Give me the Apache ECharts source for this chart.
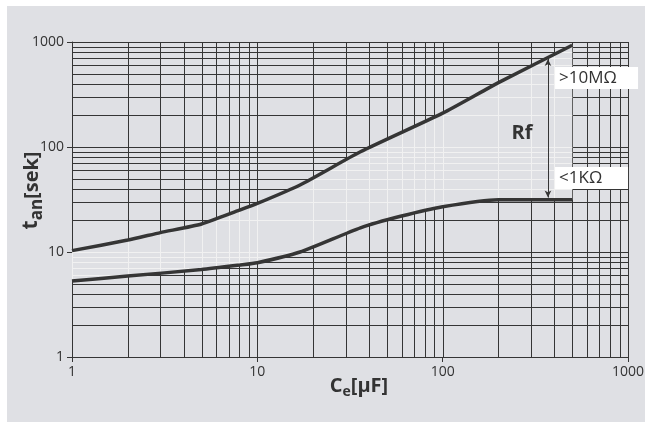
<!DOCTYPE html>
<html>
<head>
<meta charset="utf-8">
<script src="https://cdn.jsdelivr.net/npm/echarts@6/dist/echarts.min.js"></script>
<style>
  html, body { margin: 0; padding: 0; background: #ffffff; }
  #chart { position: absolute; left: 7px; top: 6px; width: 638px; height: 416px; }
</style>
</head>
<body>
<div id="chart"></div>
<script>
// upper curve (Rf > 10 MOhm)
var upperX = [1, 2, 3, 5, 8, 10, 17, 36, 100, 200, 500];
var upperY = [10.3, 13, 15.3, 18.5, 25, 29, 43.5, 90, 210, 410, 930];
// lower curve (Rf < 1 KOhm)
var lowerX = [1, 2, 5, 8, 10, 17, 36, 60, 100, 200, 500];
var lowerY = [5.3, 5.9, 6.8, 7.5, 7.9, 10, 17, 22, 27, 31.5, 31.5];
// grid lines at 1..9 of each decade
var gridValues = [1, 2, 3, 4, 5, 6, 7, 8, 9, 10, 20, 30, 40, 50, 60, 70, 80, 90,
                  100, 200, 300, 400, 500, 600, 700, 800, 900, 1000];
// annotations
var arrowX = 370, arrowTop = 690, arrowBottom = 33;
var labelHigh = {text: '>10MΩ', x: 404, y: 454};
var labelLow = {text: '<1KΩ', x: 404, y: 50.7};
var labelRf = {text: 'Rf', x: 268, y: 136};

var BG = '#dfe0e4';
var DARK = '#353535';
var LIGHT = '#f1f1f1';

function pairs(xs, ys) {
    var out = [];
    for (var i = 0; i < xs.length; i++) out.push([xs[i], ys[i]]);
    return out;
}

var chart = echarts.init(document.getElementById('chart'));

function gridRender(params, api) {
    var cs = params.coordSys;
    var x0 = cs.x, y0 = cs.y, x1 = cs.x + cs.width, y1 = cs.y + cs.height;
    function lines(color) {
        var els = [];
        for (var i = 0; i < gridValues.length; i++) {
            var v = gridValues[i];
            var px = Math.round(api.coord([v, 1])[0]) + 0.5;
            var py = Math.round(api.coord([1, v])[1]) + 0.5;
            els.push({type: 'line', shape: {x1: px, y1: y0, x2: px, y2: y1},
                      style: {stroke: color, lineWidth: 1}});
            els.push({type: 'line', shape: {x1: x0, y1: py, x2: x1, y2: py},
                      style: {stroke: color, lineWidth: 1}});
        }
        return els;
    }
    var band = [];
    for (var i = 0; i < upperX.length; i++) band.push(api.coord([upperX[i], upperY[i]]));
    for (var j = lowerX.length - 1; j >= 0; j--) band.push(api.coord([lowerX[j], lowerY[j]]));
    var bandChildren = [{type: 'polygon', shape: {points: band}, style: {fill: BG}}].concat(lines(LIGHT));
    return {
        type: 'group',
        children: [
            {type: 'group', children: lines(DARK)},
            {type: 'group', children: bandChildren,
             clipPath: {type: 'polygon', shape: {points: band}}}
        ]
    };
}

var option = {
    backgroundColor: BG,
    animation: false,
    grid: {left: 65, right: 17, top: 36, bottom: 65, outerBoundsMode: 'none', containLabel: false},
    xAxis: {
        type: 'log', logBase: 10, min: 1, max: 1000,
        name: '{c|C}{s|e}{c|[μF]}', nameLocation: 'middle', nameGap: 19, nameMoveOverlap: false,
        nameTextStyle: {
            padding: [0, 0, 0, 18],
            rich: {
                c: {fontSize: 20, fontWeight: 'bold', color: '#333', fontFamily: 'Open Sans', verticalAlign: 'bottom'},
                s: {fontSize: 14, fontWeight: 'bold', color: '#333', fontFamily: 'Open Sans', verticalAlign: 'bottom', padding: [0, 0, -3, 0]}
            }
        },
        axisLine: {show: true, lineStyle: {color: DARK, width: 1}},
        axisTick: {show: true, length: 5, lineStyle: {color: DARK}},
        axisLabel: {fontSize: 14, color: '#333', fontFamily: 'Open Sans', margin: 8,
                    formatter: function (v) { return String(Math.round(v)); }},
        splitLine: {show: false}
    },
    yAxis: {
        type: 'log', logBase: 10, min: 1, max: 1000,
        name: '{t|t}{s|an}{c|[sek]}', nameLocation: 'middle', nameGap: 30, nameMoveOverlap: false,
        nameTextStyle: {
            padding: [0, 0, 0, 18],
            rich: {
                t: {fontSize: 21, fontWeight: 'bold', color: '#333', fontFamily: 'Open Sans', verticalAlign: 'bottom'},
                s: {fontSize: 17, fontWeight: 'bold', color: '#333', fontFamily: 'Open Sans', verticalAlign: 'bottom', padding: [0, 0, -4, 0]},
                c: {fontSize: 20, fontWeight: 'bold', color: '#333', fontFamily: 'Open Sans', verticalAlign: 'bottom'}
            }
        },
        axisLine: {show: true, lineStyle: {color: DARK, width: 1}},
        axisTick: {show: true, length: 5, lineStyle: {color: DARK}},
        axisLabel: {fontSize: 14, color: '#333', fontFamily: 'Open Sans', margin: 8,
                    formatter: function (v) { return String(Math.round(v)); }},
        splitLine: {show: false}
    },
    series: [
        {
            type: 'custom', renderItem: gridRender, data: [[1, 1]], z: 1, silent: true, clip: false
        },
        {
            name: 'Rf > 10MΩ', type: 'line', data: pairs(upperX, upperY), z: 3,
            showSymbol: false, symbol: 'none', smooth: 0.2,
            lineStyle: {color: DARK, width: 3.5},
            markPoint: {
                symbol: 'rect', symbolSize: 0, silent: true,
                data: [
                    {coord: [labelRf.x, labelRf.y], value: labelRf.text,
                     label: {show: true, position: 'inside', fontSize: 20, fontWeight: 'bold',
                             color: '#333', fontFamily: 'Open Sans', formatter: labelRf.text}}
                ]
            },
            markLine: {
                silent: true, symbol: ['arrow', 'arrow'], symbolSize: [5, 7],
                lineStyle: {color: DARK, width: 1, type: 'solid'},
                label: {show: false},
                data: [[{coord: [arrowX, arrowTop]}, {coord: [arrowX, arrowBottom]}]]
            }
        },
        {
            name: 'Rf < 1KΩ', type: 'line', data: pairs(lowerX, lowerY), z: 3,
            showSymbol: false, symbol: 'none', smooth: 0.2,
            lineStyle: {color: DARK, width: 3.5}
        }
    ]
};
chart.setOption(option);

// white label boxes, placed through the grid's own scales
function boxGraphic(lab, boxWidth) {
    var p = chart.convertToPixel({gridIndex: 0}, [lab.x, lab.y]);
    return {
        type: 'group', x: p[0], y: p[1] - 11,
        children: [
            {type: 'rect', z: 100, shape: {x: 0, y: 0, width: boxWidth, height: 22}, style: {fill: '#ffffff'}},
            {type: 'text', z: 101, x: 4, y: 11,
             style: {text: lab.text, fill: '#333', font: '17px "Open Sans"', verticalAlign: 'middle', align: 'left'}}
        ]
    };
}
chart.setOption({graphic: [boxGraphic(labelHigh, 83), boxGraphic(labelLow, 73)]});
</script>
</body>
</html>
